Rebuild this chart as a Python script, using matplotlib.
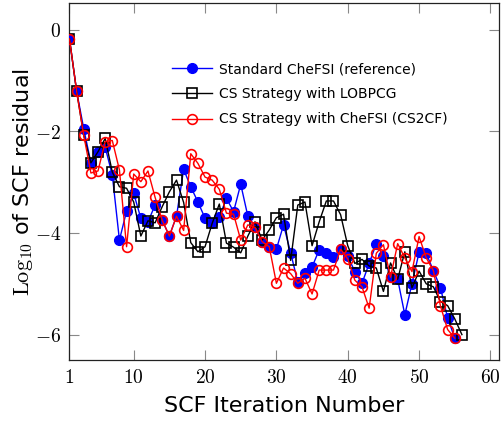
import matplotlib
matplotlib.use("Agg")
import matplotlib.pyplot as plt

plt.rcParams["mathtext.fontset"] = "cm"
plt.rcParams["font.family"] = ["DejaVu Sans"]

# SCF residual (log10) per iteration
blue_y = [-0.18, -1.21, -1.95, -2.62, -2.40, -2.31, -2.86, -4.14, -3.57, -3.22,
          -3.71, -3.78, -3.45, -3.75, -4.06, -3.67, -2.75, -3.09, -3.39, -3.71,
          -3.81, -3.68, -3.32, -3.58, -3.04, -3.67, -3.88, -4.17, -4.27, -4.32,
          -3.84, -4.39, -4.97, -4.79, -4.67, -4.33, -4.39, -4.47, -4.32, -4.46,
          -4.76, -4.99, -4.60, -4.21, -4.46, -4.87, -4.91, -5.61, -5.00, -4.38,
          -4.40, -4.74, -5.08, -5.67, -6.07]
black_y = [-0.18, -1.21, -2.08, -2.62, -2.40, -2.14, -2.80, -3.09, -3.12, -3.39,
           -4.06, -3.76, -3.80, -3.48, -3.19, -2.96, -3.40, -4.19, -4.37, -4.27,
           -3.81, -3.43, -4.20, -4.28, -4.39, -4.06, -3.78, -4.14, -3.94, -3.70,
           -3.63, -4.54, -3.45, -3.39, -4.25, -3.78, -3.37, -3.37, -3.64, -4.25,
           -4.60, -4.52, -4.65, -4.69, -5.15, -4.59, -4.91, -4.37, -5.08, -4.75,
           -5.00, -5.06, -5.35, -5.43, -5.69, -6.00]
red_y = [-0.18, -1.21, -2.08, -2.82, -2.78, -2.20, -2.18, -2.76, -4.27, -2.84,
         -2.99, -2.78, -3.30, -3.75, -4.06, -3.67, -3.95, -2.44, -2.63, -2.90,
         -2.96, -3.14, -3.61, -3.63, -4.14, -3.84, -3.89, -4.17, -4.27, -4.99,
         -4.69, -4.80, -4.99, -4.89, -5.20, -4.73, -4.73, -4.73, -4.32, -4.51,
         -4.93, -5.06, -5.48, -4.40, -4.23, -4.87, -4.21, -4.49, -4.76, -4.07,
         -4.49, -4.74, -5.44, -5.90, -6.07]
blue_x = list(range(1, len(blue_y) + 1))
black_x = list(range(1, len(black_y) + 1))
red_x = list(range(1, len(red_y) + 1))

labels = ["Standard CheFSI (reference)",
          "CS Strategy with LOBPCG",
          "CS Strategy with CheFSI (CS2CF)"]
xticks = [1, 10, 20, 30, 40, 50, 60]
yticks = [0, -2, -4, -6]

fig = plt.figure(figsize=(5.01, 4.29), dpi=100)
ax = fig.add_axes([0.1387, 0.1608, 0.8573, 0.8315])

# blue first, squares over it, hollow red circles on top
ax.plot(blue_x, blue_y, color="blue", lw=1.0, marker="o", ms=7,
        mfc="blue", mec="blue", label=labels[0], zorder=3)
ax.plot(black_x, black_y, color="black", lw=1.0, marker="s", ms=6.5,
        mfc="none", mec="black", mew=1.2, label=labels[1], zorder=4)
ax.plot(red_x, red_y, color="red", lw=1.0, marker="o", ms=7,
        mfc="none", mec="red", mew=1.2, label=labels[2], zorder=5)

ax.set_xlim(1, 61.2)
ax.set_ylim(-6.5, 0.52)
ax.set_xticks(xticks)
ax.set_xticklabels([f"${t}$" for t in xticks], fontsize=14)
ax.set_yticks(yticks)
ax.set_yticklabels([f"${t}$" for t in yticks], fontsize=14)
ax.tick_params(direction="in", length=7, width=0.8, color="#888888",
               top=True, right=True, pad=6)
for s in ax.spines.values():
    s.set_linewidth(0.9)
    s.set_color("#222222")

ax.set_xlabel("SCF Iteration Number", fontsize=16, labelpad=6)
ax.set_ylabel(r"$\mathrm{Log}_{10}$ of SCF residual", fontsize=16, labelpad=0)

ax.legend(loc="upper left", bbox_to_anchor=(0.239, 0.835), frameon=False,
          fontsize=10, handlelength=2.9, handletextpad=0.5,
          labelspacing=0.8, borderpad=0, borderaxespad=0)

fig.savefig("out.png", dpi=100)
